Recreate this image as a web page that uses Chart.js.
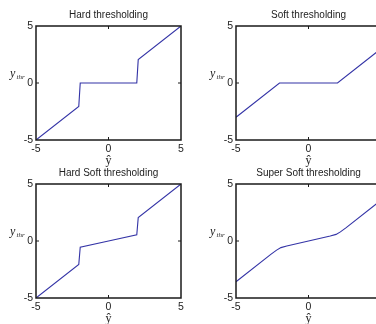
<!DOCTYPE html>
<html>
<head>
<meta charset="utf-8">
<script src="https://cdn.jsdelivr.net/npm/chart.js@4"></script>
<style>
  html, body { margin: 0; padding: 0; background: #fff; overflow: hidden; }
  #wrap { position: relative; width: 376px; height: 324px; overflow: hidden; }
  canvas { position: absolute; }
</style>
</head>
<body>
<div id="wrap">
  <canvas id="hard" width="190" height="168" style="left:0;top:0"></canvas>
  <canvas id="soft" width="190" height="168" style="left:200px;top:0"></canvas>
  <canvas id="hardSoft" width="190" height="168" style="left:0;top:158px"></canvas>
  <canvas id="superSoft" width="190" height="168" style="left:200px;top:158px"></canvas>
</div>
<script>
// tick labels shared by every axis
const tickVals = [-5, 0, 5];

// hard thresholding
const hardX = [-5, -2.05, -1.95, 1.95, 2.05, 5];
const hardY = [-5, -2.05, 0, 0, 2.05, 5];

// soft thresholding
const softX = [-5, -2, 2, 5];
const softY = [-3, 0, 0, 3];

// hard soft thresholding
const hardSoftX = [-5, -2.05, -1.95, 0, 1.95, 2.05, 5];
const hardSoftY = [-5, -2.05, -0.55, 0, 0.55, 2.05, 5];

// super soft thresholding
const superX = [-5, -2.6, -2.2, -1.9, -1.5, 0, 1.5, 1.9, 2.2, 2.6, 5];
const superY = [-3.57, -1.17, -0.8, -0.58, -0.44, 0, 0.44, 0.58, 0.8, 1.17, 3.57];

const lineColor = "#3333a6";
const textColor = "#222";

// box round the plot, small inward ticks at 0, and the y_thr label
const frame = {
  id: "frame",
  afterDraw(chart) {
    const { ctx, chartArea: a, scales } = chart;
    const x0 = scales.x.getPixelForValue(0);
    const y0 = scales.y.getPixelForValue(0);
    ctx.save();
    ctx.strokeStyle = "#1a1a1a";
    ctx.lineWidth = 1.5;
    ctx.strokeRect(a.left, a.top, a.right - a.left, a.bottom - a.top);
    ctx.lineWidth = 1;
    ctx.beginPath();
    ctx.moveTo(x0, a.top); ctx.lineTo(x0, a.top + 3);
    ctx.moveTo(x0, a.bottom); ctx.lineTo(x0, a.bottom - 3);
    ctx.moveTo(a.left, y0); ctx.lineTo(a.left + 3, y0);
    ctx.moveTo(a.right, y0); ctx.lineTo(a.right - 3, y0);
    ctx.stroke();
    ctx.fillStyle = textColor;
    ctx.textBaseline = "alphabetic";
    ctx.font = 'italic 12px "Liberation Serif"';
    ctx.fillText("y", 10, y0 - 6);
    ctx.font = 'italic 7px "Liberation Serif"';
    ctx.fillText("thr", 16.5, y0 - 4);
    ctx.restore();
  },
};

function makeChart(id, title, xs, ys) {
  new Chart(document.getElementById(id), {
    type: "scatter",
    data: {
      datasets: [
        {
          data: xs.map((v, i) => ({ x: v, y: ys[i] })),
          showLine: true,
          borderColor: lineColor,
          borderWidth: 1.1,
          pointRadius: 0,
          tension: 0,
        },
      ],
    },
    options: {
      responsive: false,
      animation: false,
      devicePixelRatio: 1,
      layout: { padding: { left: 0, right: 9, top: 0, bottom: 0 } },
      plugins: {
        legend: { display: false },
        tooltip: { enabled: false },
        title: {
          display: true,
          text: title,
          fullSize: false,
          color: textColor,
          font: { family: "Liberation Sans", size: 10, weight: "normal" },
          padding: { top: 9, bottom: 5 },
        },
      },
      scales: {
        x: {
          type: "linear",
          min: -5,
          max: 5,
          afterBuildTicks: (s) => { s.ticks = tickVals.map((v) => ({ value: v })); },
          afterFit: (s) => { s.height = 28; },
          grid: { display: false, drawTicks: false },
          border: { display: false },
          ticks: {
            color: textColor,
            padding: 3,
            maxRotation: 0,
            autoSkip: false,
            font: { family: "Liberation Sans", size: 10.5 },
          },
          title: {
            display: true,
            text: "ŷ",
            color: textColor,
            font: { family: "Liberation Serif", size: 12 },
            padding: { top: 0, bottom: 0 },
          },
        },
        y: {
          type: "linear",
          min: -5,
          max: 5,
          afterBuildTicks: (s) => { s.ticks = tickVals.map((v) => ({ value: v })); },
          afterFit: (s) => { s.width = 36; },
          grid: { display: false, drawTicks: false },
          border: { display: false },
          ticks: {
            color: textColor,
            padding: 3,
            font: { family: "Liberation Sans", size: 10.5 },
          },
        },
      },
    },
    plugins: [frame],
  });
}

makeChart("hard", "Hard thresholding", hardX, hardY);
makeChart("soft", "Soft thresholding", softX, softY);
makeChart("hardSoft", "Hard Soft thresholding", hardSoftX, hardSoftY);
makeChart("superSoft", "Super Soft thresholding", superX, superY);
</script>
</body>
</html>
